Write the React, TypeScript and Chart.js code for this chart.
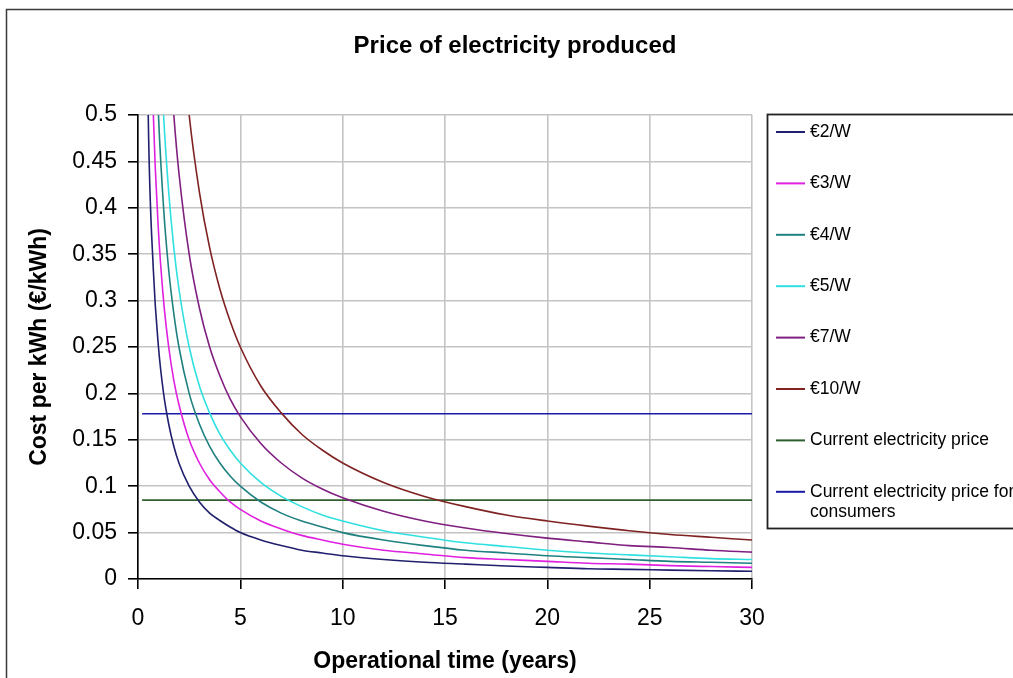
import { useEffect, useRef } from "react";
import { Chart, registerables } from "chart.js";

Chart.register(...registerables);

// Operational time in years at which each cost curve is sampled
const years = [0.25, 0.5, 0.75, 1, 1.25, 1.5, 1.75, 2, 2.5, 3, 3.5, 4, 4.5, 5, 6, 7, 8, 9, 10, 12, 14, 16, 18, 20, 22, 24, 26, 28, 30];

// Cost per kWh (€/kWh) for each installation price
const cost2 = [1.0, 0.5, 0.333, 0.25, 0.2, 0.167, 0.143, 0.125, 0.1, 0.083, 0.071, 0.063, 0.056, 0.05, 0.042, 0.036, 0.031, 0.028, 0.025, 0.021, 0.018, 0.016, 0.014, 0.0125, 0.011, 0.0104, 0.0096, 0.0089, 0.0083];
const cost3 = [1.5, 0.75, 0.5, 0.375, 0.3, 0.25, 0.214, 0.188, 0.15, 0.125, 0.107, 0.094, 0.083, 0.075, 0.0625, 0.054, 0.047, 0.042, 0.0375, 0.031, 0.027, 0.023, 0.021, 0.019, 0.017, 0.016, 0.0144, 0.0134, 0.0125];
const cost4 = [2.0, 1.0, 0.667, 0.5, 0.4, 0.333, 0.286, 0.25, 0.2, 0.167, 0.143, 0.125, 0.111, 0.1, 0.083, 0.071, 0.0625, 0.056, 0.05, 0.042, 0.036, 0.031, 0.028, 0.025, 0.023, 0.021, 0.019, 0.018, 0.017];
const cost5 = [2.5, 1.25, 0.833, 0.625, 0.5, 0.417, 0.357, 0.3125, 0.25, 0.208, 0.179, 0.156, 0.139, 0.125, 0.104, 0.089, 0.078, 0.069, 0.0625, 0.052, 0.045, 0.039, 0.035, 0.031, 0.028, 0.026, 0.024, 0.022, 0.021];
const cost7 = [3.5, 1.75, 1.167, 0.875, 0.7, 0.583, 0.5, 0.4375, 0.35, 0.292, 0.25, 0.219, 0.194, 0.175, 0.146, 0.125, 0.109, 0.097, 0.0875, 0.073, 0.0625, 0.055, 0.049, 0.044, 0.04, 0.036, 0.034, 0.031, 0.029];
const cost10 = [5.0, 2.5, 1.667, 1.25, 1.0, 0.833, 0.714, 0.625, 0.5, 0.417, 0.357, 0.3125, 0.278, 0.25, 0.208, 0.179, 0.156, 0.139, 0.125, 0.104, 0.089, 0.078, 0.069, 0.0625, 0.057, 0.052, 0.048, 0.045, 0.042];

// Reference price levels (flat lines)
const flatYears = [0.2, 30];
const producerPrice = [0.085, 0.085];
const consumerPrice = [0.178, 0.178];

const seriesLabels = [
  "€2/W",
  "€3/W",
  "€4/W",
  "€5/W",
  "€7/W",
  "€10/W",
  "Current electricity price",
  "Current electricity price for consumers",
];
const seriesColors = ["#20206e", "#e020e0", "#1f8080", "#30e0e0", "#7f1f7f", "#7f2222", "#2f5f2f", "#1a1aa8"];

const xTickStep = 5;
const yTickStep = 0.05;

const FONT = "'Liberation Sans', Arial, sans-serif";

const toPoints = (xs: number[], ys: number[]) => xs.map((x, i) => ({ x, y: ys[i] }));

// Outer chart frame and white background
const framePlugin = {
  id: "frame",
  beforeDraw(chart: any) {
    const { ctx, width, height } = chart;
    ctx.save();
    ctx.fillStyle = "#ffffff";
    ctx.fillRect(0, 0, width, height);
    ctx.strokeStyle = "#3a3a3a";
    ctx.lineWidth = 1.5;
    ctx.strokeRect(6.5, 9.5, width + 20, height + 20);
    ctx.restore();
  },
};

// Boxed legend on the right with wrapped labels
const sideLegendPlugin = {
  id: "sideLegend",
  afterDraw(chart: any) {
    const { ctx } = chart;
    const boxLeft = 767.5;
    const boxTop = 114.5;
    const boxBottom = 528.5;
    const firstRow = 132;
    const rowStep = 51.4;
    const lineX0 = 776;
    const lineX1 = 805;
    const textX = 810;
    const maxTextWidth = 205;
    const lineGap = 20;
    ctx.save();
    ctx.fillStyle = "#ffffff";
    ctx.fillRect(boxLeft, boxTop, 400, boxBottom - boxTop);
    ctx.strokeStyle = "#222222";
    ctx.lineWidth = 1.8;
    ctx.strokeRect(boxLeft, boxTop, 400, boxBottom - boxTop);
    ctx.font = `17.5px ${FONT}`;
    ctx.textBaseline = "middle";
    ctx.textAlign = "left";
    chart.data.datasets.forEach((ds: any, i: number) => {
      const y = firstRow + i * rowStep;
      ctx.strokeStyle = ds.borderColor;
      ctx.lineWidth = 2;
      ctx.beginPath();
      ctx.moveTo(lineX0, y);
      ctx.lineTo(lineX1, y);
      ctx.stroke();
      // word wrap
      const words = String(ds.label).split(" ");
      const lines: string[] = [];
      let cur = "";
      words.forEach((w) => {
        const test = cur ? cur + " " + w : w;
        if (ctx.measureText(test).width > maxTextWidth && cur) {
          lines.push(cur);
          cur = w;
        } else {
          cur = test;
        }
      });
      if (cur) lines.push(cur);
      ctx.fillStyle = "#000000";
      lines.forEach((ln, k) => ctx.fillText(ln, textX, y + k * lineGap));
    });
    ctx.restore();
  },
};

export default function App() {
  const canvasRef = useRef<HTMLCanvasElement | null>(null);

  useEffect(() => {
    document.body.style.margin = "0";
    const canvas = canvasRef.current;
    if (!canvas) return;

    const curves = [cost2, cost3, cost4, cost5, cost7, cost10].map((vals, i) => ({
      label: seriesLabels[i],
      data: toPoints(years, vals),
      borderColor: seriesColors[i],
      backgroundColor: seriesColors[i],
      borderWidth: 1.6,
      pointRadius: 0,
      cubicInterpolationMode: "monotone" as const,
      fill: false,
    }));
    const flats = [producerPrice, consumerPrice].map((vals, j) => ({
      label: seriesLabels[6 + j],
      data: toPoints(flatYears, vals),
      borderColor: seriesColors[6 + j],
      backgroundColor: seriesColors[6 + j],
      borderWidth: 1.6,
      pointRadius: 0,
      fill: false,
    }));

    const chart = new Chart(canvas, {
      type: "line",
      data: { datasets: [...curves, ...flats] },
      plugins: [framePlugin, sideLegendPlugin],
      options: {
        animation: false,
        responsive: false,
        devicePixelRatio: 1,
        layout: { padding: { left: 26, right: 9, top: 0, bottom: 3 } },
        plugins: {
          legend: { display: false },
          tooltip: { enabled: false },
          title: {
            display: true,
            text: "Price of electricity produced",
            color: "#000000",
            font: { family: FONT, size: 24, weight: "bold", lineHeight: 1.2 },
            padding: { top: 31.6, bottom: 54.6 },
          },
        },
        scales: {
          x: {
            type: "linear",
            min: 0,
            max: 30,
            ticks: {
              stepSize: xTickStep,
              color: "#000000",
              font: { family: FONT, size: 23 },
              padding: 16,
              maxRotation: 0,
            },
            grid: { color: "#c4c4c4", lineWidth: 1.6, tickColor: "#000000", tickLength: 10 },
            border: { color: "#000000", width: 1.6 },
            title: {
              display: true,
              text: "Operational time (years)",
              color: "#000000",
              font: { family: FONT, size: 23, weight: "bold", lineHeight: 1.2 },
              padding: { top: 0, bottom: 0 },
            },
            afterFit: (scale: any) => {
              scale.height = 96;
            },
          },
          y: {
            type: "linear",
            min: 0,
            max: 0.5,
            ticks: {
              stepSize: yTickStep,
              color: "#000000",
              font: { family: FONT, size: 23 },
              padding: 11,
              callback: (v: any) => String(parseFloat(Number(v).toFixed(2))),
            },
            grid: { color: "#c4c4c4", lineWidth: 1.6, tickColor: "#000000", tickLength: 10 },
            border: { color: "#000000", width: 1.6 },
            title: {
              display: true,
              text: "Cost per kWh (€/kWh)",
              color: "#000000",
              font: { family: FONT, size: 23, weight: "bold", lineHeight: 1.2 },
              padding: { top: 0, bottom: 0 },
            },
            afterFit: (scale: any) => {
              scale.width = 112;
            },
          },
          legendSpace: {
            type: "linear",
            position: "right",
            display: true,
            ticks: { display: false },
            grid: { display: false, drawTicks: false },
            border: { display: false },
            afterFit: (scale: any) => {
              scale.width = 252;
            },
          },
        },
      } as any,
    });

    return () => chart.destroy();
  }, []);

  return (
    <div style={{ position: "relative", width: 1013, height: 678 }}>
      <canvas ref={canvasRef} width={1013} height={678} style={{ display: "block", width: 1013, height: 678 }} />
    </div>
  );
}
